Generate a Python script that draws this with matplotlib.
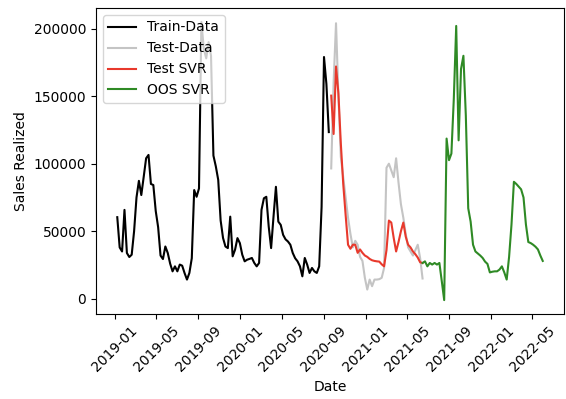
import matplotlib
matplotlib.use("Agg")
import matplotlib.pyplot as plt
import matplotlib.dates as mdates
import pandas as pd

# Weekly sales (units realized)
train_sales = [60400, 38000, 35000, 65800, 33900, 30900, 32600, 50000, 75000, 87300,
               76800, 90300, 104000, 106500, 85000, 84200, 65000, 53000, 32000, 29400,
               38700, 33900, 26000, 20300, 24000, 20300, 25300, 24500, 19000, 14200,
               19100, 30000, 80500, 75500, 81700, 205000, 185000, 178000, 190000, 180000,
               106000, 98000, 88000, 58000, 45000, 38700, 37500, 60800, 31400, 36300,
               44900, 41200, 32600, 27700, 28900, 29500, 30200, 26500, 24000, 26500,
               65800, 74400, 75500, 53500, 37500, 60800, 82900, 57100, 54700, 47300,
               44000, 42400, 40000, 33900, 30000, 27700, 24000, 16600, 30200, 25300,
               19100, 22800, 20300, 19100, 24000, 68000, 179000, 159000, 123400]

test_sales = [96500, 160000, 204000, 150000, 105000, 90000, 75000, 60000, 48000, 38000,
              42900, 40000, 31000, 28000, 15500, 6800, 14200, 9300, 14200, 14200,
              14500, 15500, 22800, 97000, 100000, 95000, 90000, 104000, 86000, 70000,
              60000, 48000, 38000, 35000, 32000, 36000, 40000, 30000, 15000]

test_svr = [150400, 122000, 172000, 152000, 115000, 85000, 62000, 40000, 37000, 40000,
            40000, 34000, 36500, 34000, 32000, 31000, 29500, 28500, 28000, 27700,
            27500, 25500, 24000, 36000, 57900, 56400, 45000, 35000, 42000, 50000,
            56400, 46000, 40000, 38000, 35000, 33000, 30500, 27000, 26500]

oos_svr = [26500, 27700, 24000, 26500, 25300, 26500, 25300, 26500, 13000, -1000,
           118600, 102600, 107500, 148000, 202000, 117300, 170100, 179900, 135700, 67000,
           57100, 40000, 35000, 33500, 32000, 30200, 27500, 25800, 19500, 20000,
           20300, 20300, 21600, 24000, 19500, 14200, 31000, 55000, 86600, 85000,
           83000, 81000, 75000, 55000, 42000, 41200, 40000, 38500, 36500, 32000,
           28000]

n_train = len(train_sales)
n_test = len(test_sales)
dates = pd.date_range("2019-01-08", periods=n_train + n_test - 1 + len(oos_svr), freq="7D")
train_dates = dates[:n_train]
test_dates = dates[n_train:n_train + n_test]
oos_dates = dates[n_train + n_test - 1:]

fig = plt.figure(figsize=(5.66, 3.99), dpi=100)
ax = fig.add_axes([0.1696, 0.213, 0.8269, 0.767])

ax.plot(train_dates, train_sales, color="black", lw=1.5, label="Train-Data")
ax.plot(test_dates, test_sales, color="#c4c4c4", lw=1.5, label="Test-Data")
ax.plot(test_dates, test_svr, color="#e8392c", lw=1.5, label="Test SVR")
ax.plot(oos_dates, oos_svr, color="#2f8a25", lw=1.5, label="OOS SVR")

ax.xaxis.set_major_locator(mdates.MonthLocator(bymonth=[1, 5, 9]))
ax.xaxis.set_major_formatter(mdates.DateFormatter("%Y-%m"))
ax.tick_params(axis="x", labelrotation=45)
ax.set_xlabel("Date")
ax.set_ylabel("Sales Realized")
ax.legend(loc="upper left")

fig.savefig("out.png", dpi=100)
